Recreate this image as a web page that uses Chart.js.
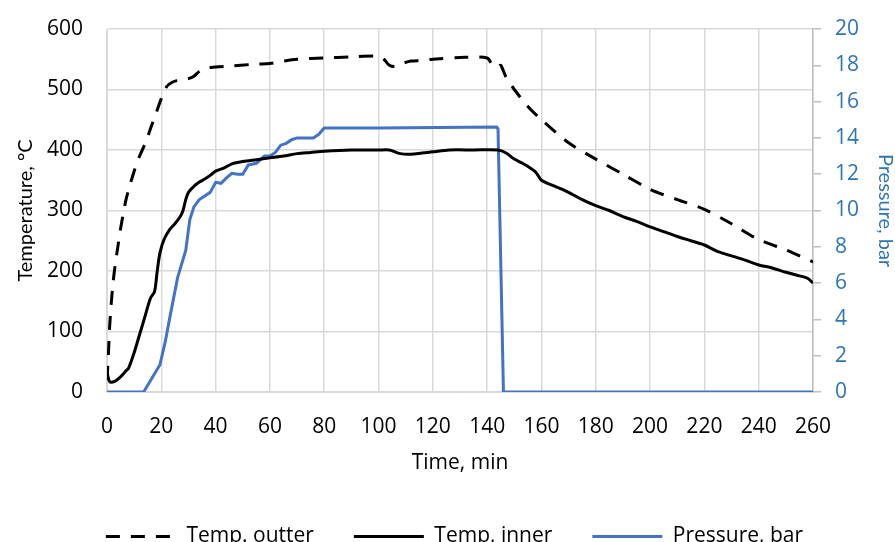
<!DOCTYPE html>
<html>
<head>
<meta charset="utf-8">
<script src="https://cdn.jsdelivr.net/npm/chart.js@4"></script>
<style>
  html, body { margin: 0; padding: 0; background: #fff; }
  #wrap { width: 895px; height: 542px; }
</style>
</head>
<body>
<div id="wrap"><canvas id="tempChart" width="895" height="542"></canvas></div>
<script>
// Temp. outter (dashed)
const outerTime = [0, 0.5, 1, 2, 3, 4, 5, 6, 7, 8, 10, 12, 14, 16, 18, 20, 22, 24, 26, 28, 30, 32, 34, 36, 40, 46, 55, 60, 65, 70, 80, 90, 100, 102, 104, 106, 108, 112, 116, 120, 130, 140, 142, 144, 145, 147, 150, 155, 160, 170, 180, 190, 200, 210, 220, 230, 240, 250, 260];
const outerTemp = [20, 60, 110, 170, 210, 240, 270, 295, 318, 335, 365, 390, 410, 435, 460, 485, 505, 512, 515, 517, 518, 522, 530, 535, 537, 539, 542, 543, 547, 550, 552, 554, 555, 550, 540, 538, 542, 547, 548, 550, 553, 552, 540, 537, 540, 520, 500, 472, 450, 412, 385, 360, 335, 318, 302, 278, 252, 235, 215];

// Temp, inner (solid)
const innerTime = [0, 1, 3, 5, 7, 8, 10, 12, 14, 16, 17.5, 18.5, 19.5, 21, 23, 25, 27, 28, 29, 30, 32, 34, 36, 38, 40, 43, 46, 50, 55, 60, 65, 70, 75, 80, 90, 100, 104, 108, 112, 116, 120, 126, 135, 144, 147, 150, 153, 156, 158, 160, 165, 170, 175, 180, 185, 190, 195, 200, 205, 210, 215, 220, 225, 230, 235, 240, 245, 250, 255, 258, 260];
const innerTemp = [33, 17, 18, 25, 35, 40, 65, 95, 125, 155, 166, 200, 230, 252, 268, 278, 290, 300, 318, 330, 340, 347, 352, 358, 365, 370, 377, 381, 384, 387, 390, 394, 396, 398, 400, 400, 400, 394, 393, 395, 397, 400, 400, 400, 395, 385, 378, 370, 363, 350, 340, 330, 318, 308, 300, 290, 282, 273, 265, 257, 250, 243, 232, 225, 218, 210, 205, 198, 192, 188, 180];

// Pressure, bar (right axis)
const pressTime = [0, 13.5, 19.5, 21.5, 23, 26, 29, 30.5, 32, 34, 36, 38, 40, 42, 44, 46, 48, 50, 52, 55, 58, 60, 62, 64, 66, 68, 70, 76, 78, 80, 100, 143.5, 144, 146, 260];
const pressVal = [0, 0, 1.5, 2.8, 4, 6.3, 7.8, 9.5, 10.2, 10.6, 10.8, 11.0, 11.55, 11.5, 11.8, 12.05, 12.0, 12.0, 12.5, 12.6, 13.0, 13.0, 13.2, 13.6, 13.7, 13.9, 14.0, 14.0, 14.2, 14.55, 14.55, 14.6, 14.5, 0, 0];

const xTicks = { min: 0, max: 260, step: 20 };
const tempTicks = { min: 0, max: 600, step: 100 };
const pressTicks = { min: 0, max: 20, step: 2 };

const toPoints = (xs, ys) => xs.map((x, i) => ({ x: x, y: ys[i] }));

const textFont = { family: '"Open Sans", sans-serif', size: 21 };
const sideFont = { family: 'Lato, sans-serif', size: 20, lineHeight: 1 };
const blue = '#2E75B6';
const gridGrey = '#d9d9d9';

const ctx = document.getElementById('tempChart').getContext('2d');
new Chart(ctx, {
  type: 'line',
  data: {
    datasets: [
      {
        label: 'Temp. outter',
        data: toPoints(outerTime, outerTemp),
        borderColor: '#000',
        backgroundColor: '#000',
        borderWidth: 3,
        borderDash: [14, 11],
        pointRadius: 0,
        tension: 0.3,
        yAxisID: 'y',
      },
      {
        label: 'Temp, inner',
        data: toPoints(innerTime, innerTemp),
        borderColor: '#000',
        backgroundColor: '#000',
        borderWidth: 3,
        pointRadius: 0,
        tension: 0.3,
        yAxisID: 'y',
      },
      {
        label: 'Pressure, bar',
        data: toPoints(pressTime, pressVal),
        borderColor: '#4472C4',
        backgroundColor: '#4472C4',
        borderWidth: 3,
        pointRadius: 0,
        tension: 0,
        yAxisID: 'y1',
      },
    ],
  },
  options: {
    responsive: false,
    animation: false,
    layout: { padding: { top: 29, left: 14, right: 0, bottom: -15 } },
    plugins: {
      tooltip: { enabled: false },
      legend: {
        position: 'bottom',
        labels: {
          usePointStyle: true,
          pointStyle: 'line',
          pointStyleWidth: 70,
          padding: 40,
          color: '#000',
          font: textFont,
          // point-style legend items ignore the dataset dash, so copy it over
          generateLabels: (chart) => {
            const items = Chart.defaults.plugins.legend.labels.generateLabels(chart);
            items.forEach((item) => {
              const ds = chart.data.datasets[item.datasetIndex];
              item.lineDash = ds.borderDash || [];
              item.strokeStyle = ds.borderColor;
              item.lineWidth = ds.borderWidth;
            });
            return items;
          },
        },
      },
    },
    scales: {
      x: {
        type: 'linear',
        min: xTicks.min,
        max: xTicks.max,
        ticks: { stepSize: xTicks.step, padding: 22, color: '#000', font: textFont },
        grid: { color: gridGrey, drawTicks: false, lineWidth: 1.5 },
        border: { color: gridGrey },
        title: {
          display: true,
          text: 'Time, min',
          color: '#000',
          font: textFont,
          padding: { top: 14, bottom: 10 },
        },
        afterFit: (scale) => { scale.height = 94; },
      },
      y: {
        position: 'left',
        min: tempTicks.min,
        max: tempTicks.max,
        ticks: { stepSize: tempTicks.step, padding: 2, color: '#000', font: textFont },
        grid: { color: gridGrey, drawTicks: true, tickLength: 22, tickColor: 'rgba(0,0,0,0)', lineWidth: 1.5 },
        border: { color: gridGrey },
        title: {
          display: true,
          text: 'Temperature, °C',
          color: '#000',
          font: sideFont,
          padding: { top: 2, bottom: 0 },
        },
        afterFit: (scale) => { scale.width = 93; },
      },
      y1: {
        position: 'right',
        min: pressTicks.min,
        max: pressTicks.max,
        ticks: { stepSize: pressTicks.step, padding: 14, color: blue, font: textFont },
        grid: { drawOnChartArea: false, color: '#bfbfbf', tickLength: 8, lineWidth: 1.5 },
        border: { color: '#bfbfbf', width: 1.5 },
        title: {
          display: true,
          text: 'Pressure, bar',
          color: blue,
          font: sideFont,
          padding: { top: 0, bottom: 0 },
        },
        afterFit: (scale) => { scale.width = 82; },
      },
    },
  },
});
</script>
</body>
</html>
